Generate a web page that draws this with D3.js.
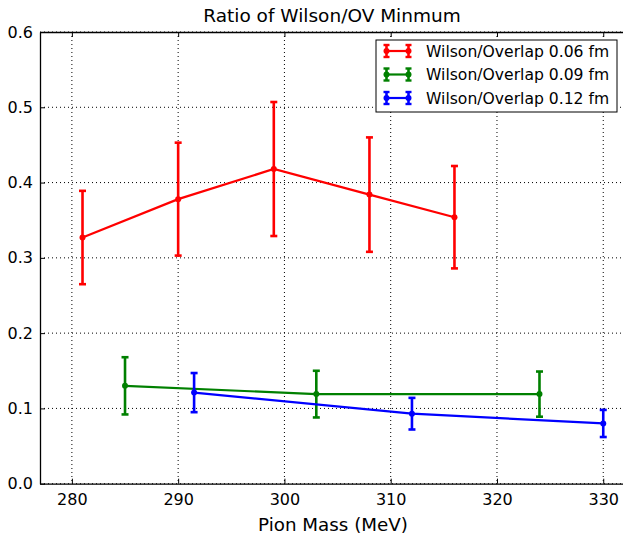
<!DOCTYPE html>
<html><head><meta charset="utf-8">
<script src="https://cdn.jsdelivr.net/npm/d3@7/dist/d3.min.js"></script>
<style>body{margin:0;background:#fff}svg{display:block}text{font-family:"DejaVu Sans",sans-serif}</style>
</head><body><svg id="c" width="623" height="538"></svg>
<script>
const xTicks = [280, 290, 300, 310, 320, 330];
const yTicks = [0.0, 0.1, 0.2, 0.3, 0.4, 0.5, 0.6];
const seriesNames = ["Wilson/Overlap 0.06 fm", "Wilson/Overlap 0.09 fm", "Wilson/Overlap 0.12 fm"];
const seriesColors = ["#ff0000", "#008000", "#0000ff"];
const x006 = [281, 290, 299, 308, 316];
const y006 = [0.327, 0.378, 0.418, 0.384, 0.354];
const e006 = [0.062, 0.075, 0.089, 0.076, 0.068];
const x009 = [285, 303, 324];
const y009 = [0.130, 0.119, 0.119];
const e009 = [0.038, 0.031, 0.030];
const x012 = [291.5, 312, 330];
const y012 = [0.121, 0.093, 0.080];
const e012 = [0.026, 0.021, 0.018];

const series = [[x006, y006, e006], [x009, y009, e009], [x012, y012, e012]].map((s, i) => ({
  name: seriesNames[i], color: seriesColors[i],
  pts: s[0].map((v, j) => ({x: v, y: s[1][j], e: s[2][j]}))
}));

const svg = d3.select("#c");
const L = 40, T = 32, B = 483.7, R = 624.5;
const x = d3.scaleLinear().domain([277, 332]).range([L, R]);
const y = d3.scaleLinear().domain([0, 0.6]).range([B, T]);

// grid
const g = svg.append("g");
g.selectAll("line.gx").data(xTicks).join("line").attr("class", "gx")
  .attr("x1", d => x(d)).attr("x2", d => x(d)).attr("y1", T).attr("y2", B)
  .attr("stroke", "#000").attr("stroke-width", 1).attr("stroke-dasharray", "1,3");
g.selectAll("line.gy").data(yTicks).join("line").attr("class", "gy")
  .attr("x1", L).attr("x2", R).attr("y1", d => y(d)).attr("y2", d => y(d))
  .attr("stroke", "#000").attr("stroke-width", 1).attr("stroke-dasharray", "1,3");

// axes
const xAxis = d3.axisBottom(x).tickValues(xTicks).tickSizeInner(-5).tickSizeOuter(0).tickPadding(10).tickFormat(d3.format("d"));
const xAxisTop = d3.axisTop(x).tickValues(xTicks).tickSizeInner(-5).tickSizeOuter(0).tickFormat("");
const yAxis = d3.axisLeft(y).tickValues(yTicks).tickSizeInner(-5).tickSizeOuter(0).tickPadding(7).tickFormat(d3.format(".1f"));
const ax = svg.append("g").attr("transform", `translate(0,${B})`).call(xAxis);
const axT = svg.append("g").attr("transform", `translate(0,${T})`).call(xAxisTop);
const ay = svg.append("g").attr("transform", `translate(${L},0)`).call(yAxis);
[ax, axT, ay].forEach(a => {
  a.attr("font-size", null).attr("font-family", null);
  a.select(".domain").attr("stroke", "#000").attr("stroke-width", 1.3);
  a.selectAll(".tick line").attr("stroke", "#000").attr("stroke-width", 1);
  a.selectAll("text").style("font-size", "16px").attr("fill", "#000").style("font-family", "DejaVu Sans");
});

// series
const line = d3.line().x(d => x(d.x)).y(d => y(d.y));
series.forEach((s, si) => {
  const sg = svg.append("g");
  sg.append("path").datum(s.pts).attr("d", line).attr("fill", "none")
    .attr("stroke", s.color).attr("stroke-width", 2.2);
  sg.selectAll("line.eb").data(s.pts).join("line").attr("class", "eb")
    .attr("x1", d => x(d.x)).attr("x2", d => x(d.x))
    .attr("y1", d => y(d.y - d.e)).attr("y2", d => y(d.y + d.e))
    .attr("stroke", s.color).attr("stroke-width", 2.6);
  [-1, 1].forEach((sgn, k) => {
    sg.selectAll("line.cap" + k).data(s.pts).join("line").attr("class", "cap" + k)
      .attr("x1", d => x(d.x) - 3.5).attr("x2", d => x(d.x) + 3.5)
      .attr("y1", d => y(d.y + sgn * d.e))
      .attr("y2", d => y(d.y + sgn * d.e))
      .attr("stroke", s.color).attr("stroke-width", 2.6);
  });
  sg.selectAll("circle").data(s.pts).join("circle")
    .attr("cx", d => x(d.x)).attr("cy", d => y(d.y)).attr("r", 3).attr("fill", s.color);
});

// title and label
svg.append("text").attr("x", 332).attr("y", 22).attr("text-anchor", "middle")
  .style("font-size", "18.5px").text("Ratio of Wilson/OV Minmum");
svg.append("text").attr("x", 333).attr("y", 531).attr("text-anchor", "middle")
  .style("font-size", "18.3px").text("Pion Mass (MeV)");

// legend
const lg = svg.append("g");
lg.append("rect").attr("x", 376).attr("y", 40).attr("width", 241).attr("height", 72)
  .attr("fill", "#fff").attr("stroke", "#000").attr("stroke-width", 1);
series.forEach((s, i) => {
  const cy = 51 + i * 23.5;
  const r = lg.append("g");
  r.append("line").attr("x1", 384).attr("x2", 411).attr("y1", cy).attr("y2", cy).attr("stroke", s.color).attr("stroke-width", 2.2);
  [386.5, 408.5].forEach(px => {
    r.append("line").attr("x1", px).attr("x2", px).attr("y1", cy - 6).attr("y2", cy + 6).attr("stroke", s.color).attr("stroke-width", 2.6);
    r.append("line").attr("x1", px - 3).attr("x2", px + 3).attr("y1", cy - 6).attr("y2", cy - 6).attr("stroke", s.color).attr("stroke-width", 2.4);
    r.append("line").attr("x1", px - 3).attr("x2", px + 3).attr("y1", cy + 6).attr("y2", cy + 6).attr("stroke", s.color).attr("stroke-width", 2.4);
    r.append("circle").attr("cx", px).attr("cy", cy).attr("r", 3).attr("fill", s.color);
  });
  r.append("text").attr("x", 426).attr("y", cy + 5.5).style("font-size", "15.6px").text(s.name);
});
</script></body></html>
